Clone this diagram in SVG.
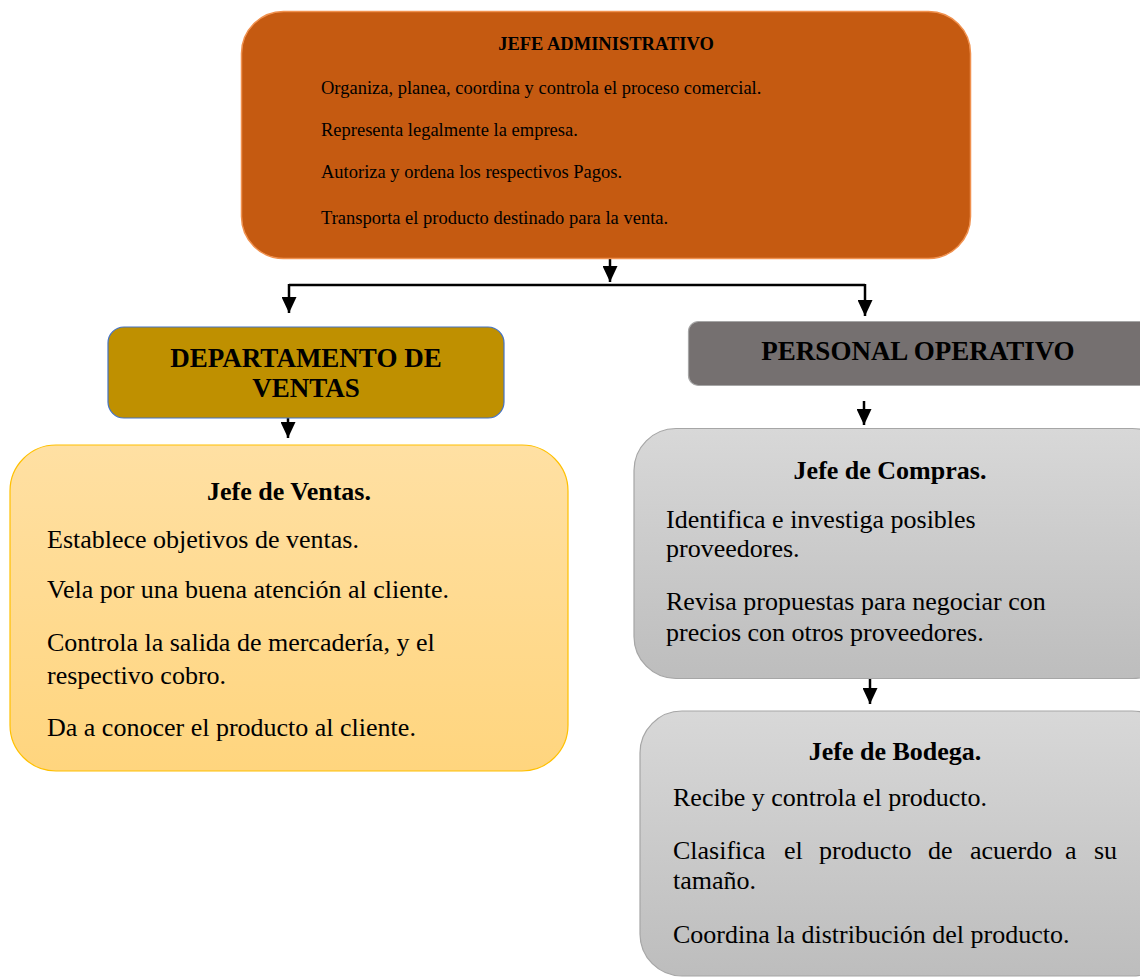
<svg xmlns="http://www.w3.org/2000/svg" width="1140" height="979" viewBox="0 0 1140 979">
<style>
.t{font-family:"Liberation Serif","Times New Roman",serif;fill:#000}
.b{font-weight:bold}
.top{font-size:18.5px}
.big{font-size:26px}
.hd{font-size:27px}
.c{text-anchor:middle}
.conn{stroke:#000;stroke-width:2.5;fill:none}
</style>
<defs>
<marker id="ah" markerUnits="userSpaceOnUse" markerWidth="16" markerHeight="15" viewBox="0 0 16 15" refX="16" refY="7.5" orient="auto">
<path d="M0,0 L16,7.5 L0,15 z" fill="#000"/>
</marker>
<linearGradient id="gy" x1="0" y1="0" x2="0" y2="1">
<stop offset="0" stop-color="#FFE0A3"/>
<stop offset="1" stop-color="#FFD57E"/>
</linearGradient>
<linearGradient id="gg" x1="0" y1="0" x2="0" y2="1">
<stop offset="0" stop-color="#D8D8D8"/>
<stop offset="1" stop-color="#BDBDBD"/>
</linearGradient>
</defs>
<rect width="1140" height="979" fill="#fff"/>

<g id="connectors">
<path class="conn" d="M610,259 V282" marker-end="url(#ah)"/>
<path class="conn" d="M289,285 H865"/>
<path class="conn" d="M289,284 V313" marker-end="url(#ah)"/>
<path class="conn" d="M865,284 V316" marker-end="url(#ah)"/>
<path class="conn" d="M288,418 V438" marker-end="url(#ah)"/>
<path class="conn" d="M864,401 V425" marker-end="url(#ah)"/>
<path class="conn" d="M870,679 V704" marker-end="url(#ah)"/>
</g>

<g id="jefe-administrativo">
<rect x="241.5" y="11.5" width="729" height="247" rx="42" fill="#C55A11" stroke="#F0914F" stroke-width="1.5"/>
<text class="t b top c" x="606" y="50">JEFE ADMINISTRATIVO</text>
<text class="t top" x="321" y="94">Organiza, planea, coordina y controla el proceso comercial.</text>
<text class="t top" x="321" y="136">Representa legalmente la empresa.</text>
<text class="t top" x="321" y="178">Autoriza y ordena los respectivos Pagos.</text>
<text class="t top" x="321" y="224">Transporta el producto destinado para la venta.</text>
</g>

<g id="departamento-ventas">
<rect x="108" y="327" width="396" height="91" rx="16" fill="#BF9000" stroke="#4472C4" stroke-width="1.2"/>
<text class="t b hd c" x="306" y="367">DEPARTAMENTO DE</text>
<text class="t b hd c" x="306" y="397">VENTAS</text>
</g>

<g id="personal-operativo">
<rect x="688.5" y="321.5" width="470" height="64" rx="10" fill="#757070" stroke="#A6A6A6" stroke-width="1.2"/>
<text class="t b hd c" x="918" y="360">PERSONAL OPERATIVO</text>
</g>

<g id="jefe-ventas">
<rect x="10" y="445" width="558" height="326" rx="46" fill="url(#gy)" stroke="#FFC000" stroke-width="1.2"/>
<text class="t b big c" x="289" y="500">Jefe de Ventas.</text>
<text class="t big" x="47" y="548">Establece objetivos de ventas.</text>
<text class="t big" x="47" y="598">Vela por una buena atención al cliente.</text>
<text class="t big" x="47" y="651">Controla la salida de mercadería, y el</text>
<text class="t big" x="47" y="684">respectivo cobro.</text>
<text class="t big" x="47" y="736">Da a conocer el producto al cliente.</text>
</g>

<g id="jefe-compras">
<rect x="634" y="428.5" width="540" height="250" rx="42" fill="url(#gg)" stroke="#A6A6A6" stroke-width="1.2"/>
<text class="t b big c" x="890" y="479">Jefe de Compras.</text>
<text class="t big" x="666" y="528">Identifica e investiga posibles</text>
<text class="t big" x="666" y="557">proveedores.</text>
<text class="t big" x="666" y="610">Revisa propuestas para negociar con</text>
<text class="t big" x="666" y="641">precios con otros proveedores.</text>
</g>

<g id="jefe-bodega">
<rect x="640" y="711" width="534" height="265" rx="42" fill="url(#gg)" stroke="#A6A6A6" stroke-width="1.2"/>
<text class="t b big c" x="895" y="760">Jefe de Bodega.</text>
<text class="t big" x="673" y="806">Recibe y controla el producto.</text>
<text class="t big" y="859"><tspan x="673">Clasifica</tspan> <tspan x="784">el</tspan> <tspan x="819">producto</tspan> <tspan x="928">de</tspan> <tspan x="970">acuerdo</tspan> <tspan x="1065">a</tspan> <tspan x="1094">su</tspan></text>
<text class="t big" x="673" y="889">tamaño.</text>
<text class="t big" x="673" y="943">Coordina la distribución del producto.</text>
</g>
</svg>
